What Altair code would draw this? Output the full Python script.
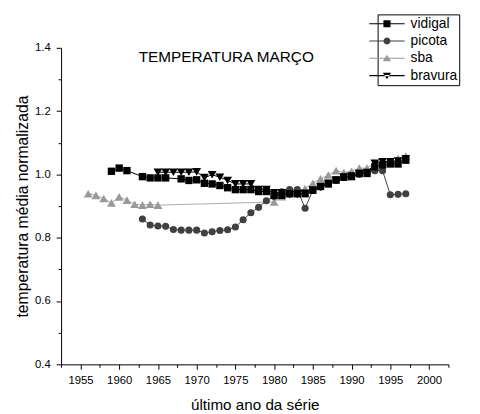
import altair as alt
import pandas as pd

# ---------------- data ----------------
series_names = ["vidigal", "picota", "sba", "bravura"]
marker_colors = ["#000000", "#404040", "#999999", "#000000"]
line_colors = ["#000000", "#404040", "#a8a8a8", "#000000"]
marker_shapes = ["square", "circle", "triangle-up", "triangle-down"]
marker_sizes = [56, 52, 80, 80]

vidigal_years = [1959, 1960, 1961, 1963, 1964, 1965, 1966, 1968, 1969, 1970,
                 1971, 1972, 1973, 1974, 1975, 1976, 1977, 1978, 1979, 1980,
                 1981, 1982, 1983, 1984, 1985, 1986, 1987, 1988, 1989, 1990,
                 1991, 1992, 1993, 1994, 1995, 1996, 1997]
vidigal_values = [1.010, 1.020, 1.012, 0.993, 0.989, 0.989, 0.989, 0.986, 0.981, 0.983,
                  0.972, 0.970, 0.965, 0.958, 0.952, 0.952, 0.952, 0.946, 0.946, 0.934,
                  0.934, 0.939, 0.939, 0.939, 0.950, 0.962, 0.970, 0.982, 0.991, 0.993,
                  1.003, 1.003, 1.024, 1.030, 1.033, 1.033, 1.045]

picota_years = [1963, 1964, 1965, 1966, 1967, 1968, 1969, 1970, 1971, 1972,
                1973, 1974, 1975, 1976, 1977, 1978, 1979, 1980, 1981, 1982,
                1983, 1984, 1985, 1986, 1987, 1988, 1989, 1990, 1991, 1992,
                1993, 1994, 1995, 1996, 1997]
picota_values = [0.859, 0.840, 0.837, 0.836, 0.826, 0.824, 0.824, 0.824, 0.815, 0.819,
                 0.823, 0.825, 0.834, 0.857, 0.879, 0.896, 0.917, 0.930, 0.945, 0.952,
                 0.952, 0.893, 0.950, 0.960, 0.970, 0.982, 0.990, 0.995, 1.000, 1.005,
                 1.012, 1.012, 0.936, 0.937, 0.939]

sba_years = [1956, 1957, 1958, 1959, 1960, 1961, 1962, 1963, 1964, 1965,
             1980, 1981, 1982, 1983, 1984, 1985, 1986, 1987, 1988, 1989,
             1990, 1991, 1992, 1993, 1994, 1995, 1996, 1997]
sba_values = [0.939, 0.934, 0.924, 0.910, 0.929, 0.919, 0.906, 0.903, 0.906, 0.903,
              0.913, 0.930, 0.940, 0.945, 0.955, 0.972, 0.986, 0.998, 1.012, 1.006,
              1.010, 1.020, 1.020, 1.036, 1.042, 1.036, 1.050, 1.058]

bravura_years = [1965, 1966, 1967, 1968, 1969, 1970, 1971, 1972, 1973, 1974,
                 1975, 1976, 1977, 1978, 1979, 1980, 1981, 1982, 1983, 1984,
                 1985, 1986, 1987, 1988, 1989, 1990, 1991, 1992, 1993, 1994,
                 1995, 1996, 1997]
bravura_values = [1.007, 1.007, 1.007, 1.007, 1.007, 1.008, 0.990, 0.999, 0.991, 0.981,
                  0.970, 0.970, 0.970, 0.952, 0.952, 0.942, 0.942, 0.936, 0.936, 0.940,
                  0.950, 0.960, 0.972, 0.982, 0.992, 0.995, 1.003, 1.006, 1.035, 1.040,
                  1.040, 1.042, 1.049]

x_major = [1955, 1960, 1965, 1970, 1975, 1980, 1985, 1990, 1995, 2000]
x_minor = [1952.5, 1957.5, 1962.5, 1967.5, 1972.5, 1977.5, 1982.5, 1987.5, 1992.5, 1997.5, 2002.5]
y_major = [0.4, 0.6, 0.8, 1.0, 1.2, 1.4]
y_minor = [0.5, 0.7, 0.9, 1.1, 1.3]

# legend symbols (scaled by 7.5 px per unit): a thin bar (the line) with the marker in the middle
BAR = "M-2.4,-0.07H2.4V0.07H-2.4Z"
legend_paths = [
    BAR + "M-0.48,-0.48H0.48V0.48H-0.48Z",
    BAR + "M0.48,0L0.416,0.24L0.24,0.416L0,0.48L-0.24,0.416L-0.416,0.24L-0.48,0"
          "L-0.416,-0.24L-0.24,-0.416L0,-0.48L0.24,-0.416L0.416,-0.24Z",
    BAR + "M0,-0.5L0.56,0.4L-0.56,0.4Z",
    BAR + "M0,0.5L0.56,-0.4L-0.56,-0.4Z",
]

# ---------------- table ----------------
rows = []
for name, yrs, vals in [("vidigal", vidigal_years, vidigal_values),
                        ("picota", picota_years, picota_values),
                        ("sba", sba_years, sba_values),
                        ("bravura", bravura_years, bravura_values)]:
    for yr, v in zip(yrs, vals):
        rows.append({"series": name, "year": yr, "value": v})
df = pd.DataFrame(rows)

FONT = "Liberation Sans"
x_scale = alt.Scale(domain=[1952.5, 2002.5], nice=False, zero=False)
y_scale = alt.Scale(domain=[0.4, 1.4], nice=False, zero=False)

axis_style = dict(grid=False, domainColor="#000000", tickColor="#000000",
                  labelColor="#000000", titleColor="#000000", labelFont=FONT,
                  titleFont=FONT, domainWidth=1, tickWidth=1)

base = alt.Chart(df)

x_main = alt.X("year:Q", scale=x_scale,
               axis=alt.Axis(values=x_major, format="d", orient="bottom", tickSize=5,
                             labelFontSize=11.5, labelPadding=5,
                             title="último ano da série", titleFontSize=15.5,
                             titleFontWeight="normal", titleBaseline="alphabetic",
                             titleY=46, **axis_style))
y_main = alt.Y("value:Q", scale=y_scale,
               axis=alt.Axis(values=y_major, format=".1f", orient="left", tickSize=5,
                             labelFontSize=11.5, labelPadding=6,
                             title="temperatura média normalizada", titleFontSize=16,
                             titleFontWeight="normal", titleBaseline="alphabetic",
                             titleX=-34, titleY=161, titleAngle=270, **axis_style))
x_plain = alt.X("year:Q", scale=x_scale, axis=None)
y_plain = alt.Y("value:Q", scale=y_scale, axis=None)

draw_order = ["sba", "picota", "vidigal", "bravura"]

line_layers = []
for k, name in enumerate(draw_order):
    i = series_names.index(name)
    line_layers.append(
        base.transform_filter(alt.datum.series == name)
        .mark_line(strokeWidth=1, color=line_colors[i])
        .encode(x=x_main if k == 0 else x_plain,
                y=y_main if k == 0 else y_plain,
                order="year:Q")
    )

point_layers = []
for name in draw_order:
    i = series_names.index(name)
    point_layers.append(
        base.transform_filter(alt.datum.series == name)
        .mark_point(filled=True, opacity=1, shape=marker_shapes[i],
                    size=marker_sizes[i], color=marker_colors[i], strokeWidth=0)
        .encode(x=x_plain, y=y_plain)
    )

legend_props = dict(title=None, orient="none", legendX=322, legendY=-34,
                    padding=2, strokeColor="#000000", fillColor="#ffffff",
                    labelFont=FONT, labelFontSize=14, labelColor="#000000",
                    symbolSize=225, symbolStrokeWidth=0, symbolOffset=0,
                    labelOffset=16.5, rowPadding=2.6)

# helper layer: carries the legend and the minor ticks; its own marks are
# placed outside the x domain and clipped away
legend_layer = base.transform_calculate(hidden_year="3000").mark_point(
    filled=True, opacity=1, clip=True
).encode(
    x=alt.X("hidden_year:Q", scale=x_scale,
            axis=alt.Axis(values=x_minor, orient="bottom", labels=False, tickSize=3,
                          domain=False, title=None, grid=False, tickColor="#000000")),
    y=alt.Y("value:Q", scale=y_scale,
            axis=alt.Axis(values=y_minor, orient="left", labels=False, tickSize=3,
                          domain=False, title=None, grid=False, tickColor="#000000")),
    color=alt.Color("series:N", scale=alt.Scale(domain=series_names, range=marker_colors),
                    legend=alt.Legend(**legend_props)),
    shape=alt.Shape("series:N", scale=alt.Scale(domain=series_names, range=legend_paths),
                    legend=alt.Legend(**legend_props)),
)

chart = alt.layer(*line_layers, *point_layers, legend_layer).resolve_axis(
    x="independent", y="independent"
).properties(
    width=394, height=322,
    autosize=alt.AutoSizeParams(type="none"),
    padding={"left": 54, "top": 37, "right": 24, "bottom": 47},
    title=alt.TitleParams(text="TEMPERATURA MARÇO", font=FONT, fontSize=15.6,
                          fontWeight="normal", color="#000000", anchor="middle",
                          frame="group", baseline="alphabetic", offset=0,
                          dx=-29, dy=64.4),
).configure_view(stroke=None)

chart.save("out.html", embed_options={"renderer": "svg", "actions": False})
